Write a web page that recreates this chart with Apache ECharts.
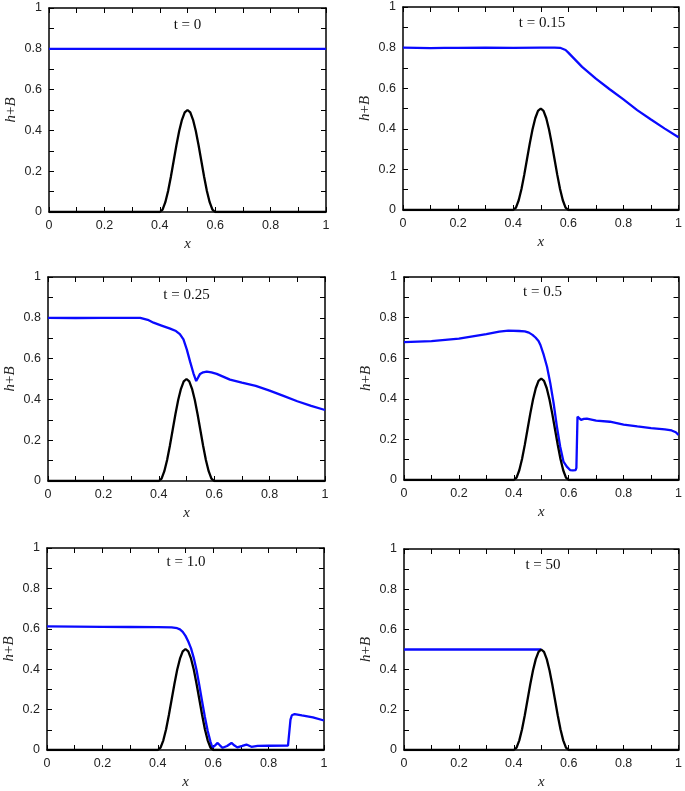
<!DOCTYPE html>
<html><head><meta charset="utf-8">
<script src="https://cdn.jsdelivr.net/npm/echarts@6/dist/echarts.min.js"></script>
<style>html,body{margin:0;padding:0;background:#fff}#c{width:685px;height:791px}</style>
</head><body><div id="c"></div>
<script>
// ---- data ----
const panelTitles = ['t = 0', 't = 0.15', 't = 0.25', 't = 0.5', 't = 1.0', 't = 50'];

// bottom topography B(x)
const bedX = [0, 0.1, 0.2, 0.3, 0.4, 0.41, 0.42, 0.43, 0.44, 0.45, 0.46, 0.47, 0.48, 0.49, 0.5,
  0.51, 0.52, 0.53, 0.54, 0.55, 0.56, 0.57, 0.58, 0.59, 0.6, 0.7, 0.8, 0.9, 1];
const bedB = [0, 0, 0, 0, 0, 0.012, 0.048, 0.103, 0.173, 0.25, 0.327, 0.397, 0.452, 0.488, 0.5,
  0.488, 0.452, 0.397, 0.327, 0.25, 0.173, 0.103, 0.048, 0.012, 0, 0, 0, 0, 0];

// free surface h+B, [x, value]
const surf_t0 = [[0, 0.8], [0.5, 0.8], [1, 0.8]];
const surf_t015 = [[0, 0.8], [0.05, 0.799], [0.1, 0.797], [0.15, 0.799], [0.2, 0.799], [0.3, 0.8],
  [0.4, 0.799], [0.5, 0.8], [0.55, 0.8], [0.57, 0.799], [0.59, 0.788], [0.6, 0.775], [0.65, 0.705],
  [0.7, 0.647], [0.75, 0.595], [0.8, 0.545], [0.85, 0.492], [0.9, 0.446], [0.95, 0.401], [1.0, 0.358]];
const surf_t025 = [[0, 0.8], [0.1, 0.799], [0.2, 0.8], [0.261, 0.8], [0.333, 0.8], [0.36, 0.79],
  [0.381, 0.776], [0.41, 0.762], [0.441, 0.747], [0.462, 0.735], [0.476, 0.72], [0.489, 0.694],
  [0.501, 0.645], [0.513, 0.585], [0.525, 0.528], [0.535, 0.49], [0.541, 0.505], [0.549, 0.525],
  [0.56, 0.533], [0.573, 0.536], [0.59, 0.532], [0.609, 0.525], [0.657, 0.497], [0.7, 0.482],
  [0.75, 0.466], [0.8, 0.443], [0.85, 0.417], [0.9, 0.391], [0.95, 0.368], [1.0, 0.348]];
const surf_t05 = [[0, 0.679], [0.1, 0.684], [0.2, 0.696], [0.3, 0.719], [0.347, 0.731], [0.38, 0.736],
  [0.419, 0.734], [0.44, 0.732], [0.455, 0.726], [0.468, 0.715], [0.479, 0.702], [0.49, 0.685],
  [0.497, 0.665], [0.509, 0.616], [0.521, 0.558], [0.533, 0.476], [0.545, 0.378], [0.557, 0.263],
  [0.569, 0.164], [0.581, 0.09], [0.593, 0.066], [0.605, 0.049], [0.615, 0.047], [0.625, 0.049],
  [0.628, 0.06], [0.632, 0.312], [0.638, 0.305], [0.645, 0.296], [0.655, 0.301], [0.666, 0.302],
  [0.7, 0.293], [0.75, 0.287], [0.8, 0.273], [0.85, 0.264], [0.9, 0.256], [0.95, 0.249],
  [0.975, 0.244], [0.99, 0.235], [1.0, 0.222]];
const surf_t1 = [[0, 0.612], [0.1, 0.611], [0.2, 0.61], [0.3, 0.609], [0.4, 0.608], [0.45, 0.607],
  [0.47, 0.603], [0.48, 0.597], [0.49, 0.585], [0.5, 0.565], [0.51, 0.537], [0.52, 0.503],
  [0.53, 0.455], [0.54, 0.395], [0.55, 0.32], [0.56, 0.24], [0.57, 0.163], [0.58, 0.095],
  [0.59, 0.042], [0.597, 0.012], [0.606, 0.022], [0.616, 0.035], [0.625, 0.022], [0.634, 0.011],
  [0.65, 0.02], [0.666, 0.035], [0.677, 0.022], [0.687, 0.013], [0.705, 0.02], [0.72, 0.027],
  [0.738, 0.016], [0.76, 0.02], [0.8, 0.021], [0.87, 0.022], [0.875, 0.03], [0.879, 0.15],
  [0.884, 0.172], [0.894, 0.178], [0.92, 0.171], [0.96, 0.161], [1.0, 0.146]];
const surf_t50 = [[0, 0.5], [0.25, 0.5], [0.5, 0.5]];

const surfaces = [surf_t0, surf_t015, surf_t025, surf_t05, surf_t1, surf_t50];

// ---- layout ----
const grids = [
  {left: 49, top: 8, width: 277, height: 204},
  {left: 403, top: 7, width: 278, height: 203},
  {left: 48, top: 277, width: 277, height: 204},
  {left: 404, top: 277, width: 277, height: 203},
  {left: 47, top: 548, width: 277, height: 202},
  {left: 404, top: 549, width: 278, height: 203}
];
const titleCenters = [[187.5, 25], [542, 23.5], [186.5, 295], [542.5, 292.5], [186, 562.5], [543, 565.5]];

const SANS = '"Liberation Sans", Arial, sans-serif';
const SERIF = '"Liberation Serif", "Times New Roman", serif';

function axisBase(show) {
  return {
    type: 'value', min: 0, max: 1, interval: 0.2,
    axisLine: {show: true, onZero: false, lineStyle: {color: '#000', width: 1.5}},
    axisTick: {show: true, inside: true, length: 5, lineStyle: {color: '#000', width: 1}},
    minorTick: {show: true, splitNumber: 2, length: 5, lineStyle: {color: '#000', width: 1}},
    splitLine: {show: false},
    axisLabel: {show: show, color: '#222', fontFamily: SANS, fontSize: 12.5, margin: 7},
  };
}

const xAxes = [], yAxes = [], series = [], graphics = [];
const bedData = bedX.map((x, i) => [x, bedB[i]]);

grids.forEach((g, i) => {
  xAxes.push(Object.assign(axisBase(true), {
    gridIndex: i, position: 'bottom',
    name: 'x', nameLocation: 'middle', nameGap: 25,
    nameTextStyle: {fontFamily: SERIF, fontStyle: 'italic', fontSize: 15, color: '#222'}
  }));
  xAxes.push(Object.assign(axisBase(false), {gridIndex: i, position: 'top'}));
  yAxes.push(Object.assign(axisBase(true), {
    gridIndex: i, position: 'left',
    name: '{i|h}{r|+}{i|B}', nameLocation: 'middle', nameGap: 30, nameRotate: 90,
    nameTextStyle: {
      fontFamily: SERIF, fontSize: 15, color: '#222',
      rich: {
        i: {fontFamily: SERIF, fontStyle: 'italic', fontSize: 15, color: '#222'},
        r: {fontFamily: SERIF, fontSize: 15, color: '#222'}
      }
    }
  }));
  yAxes.push(Object.assign(axisBase(false), {gridIndex: i, position: 'right'}));

  series.push({
    type: 'line', xAxisIndex: 2 * i, yAxisIndex: 2 * i, data: surfaces[i],
    showSymbol: false, symbol: 'none', lineStyle: {color: '#0a0aff', width: 2.3}, z: 2, animation: false
  });
  series.push({
    type: 'line', xAxisIndex: 2 * i, yAxisIndex: 2 * i, data: bedData,
    showSymbol: false, symbol: 'none', lineStyle: {color: '#000', width: 2.3}, z: 3, animation: false
  });

  graphics.push({
    type: 'text', x: titleCenters[i][0], y: titleCenters[i][1],
    style: {text: panelTitles[i], font: '15px ' + SERIF, fill: '#111', textAlign: 'center', textVerticalAlign: 'middle'}
  });
});

const chart = echarts.init(document.getElementById('c'), null, {renderer: 'canvas'});
chart.setOption({
  animation: false,
  backgroundColor: '#fff',
  grid: grids.map(g => Object.assign({containLabel: false}, g)),
  xAxis: xAxes,
  yAxis: yAxes,
  series: series,
  graphic: graphics
});
</script>
</body></html>
